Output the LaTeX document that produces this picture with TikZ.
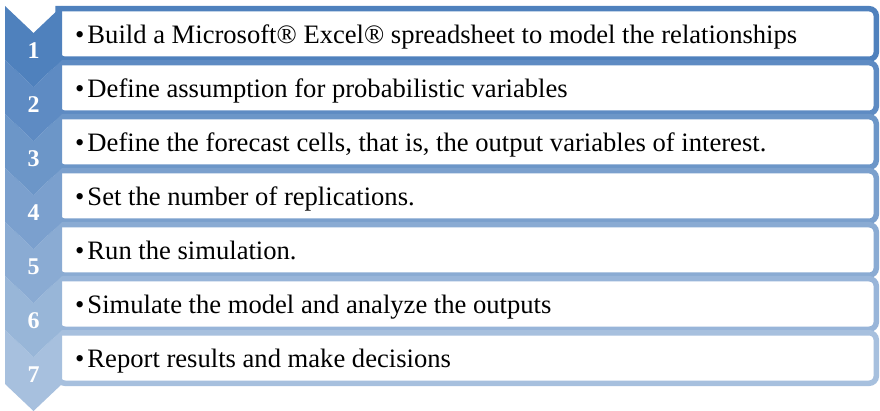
\documentclass[tikz,border=0pt]{standalone}
\usepackage{fontspec}
\setmainfont{Liberation Serif}
\definecolor{accent}{RGB}{79,129,189}
\begin{document}
\begin{tikzpicture}[x=1pt,y=-1pt,
  itemtext/.style={anchor=base west,inner sep=0pt,font=\fontsize{26.6}{30}\selectfont,text=black},
  numtext/.style={inner sep=0pt,font=\fontsize{24}{27}\selectfont\bfseries,text=white}]
\useasboundingbox (0,0) rectangle (880,411);
% text boxes (drawn first so the chevrons cover their left edges);
% row colours fade from the accent blue towards white
\foreach \k/\txt in {
  1/{Build a Microsoft® Excel® spreadsheet to model the relationships},
  2/{Define assumption for probabilistic variables},
  3/{Define the forecast cells, that is, the output variables of interest.},
  4/{Set the number of replications.},
  5/{Run the simulation.},
  6/{Simulate the model and analyze the outputs},
  7/{Report results and make decisions}}{
  \pgfmathsetmacro{\T}{6+54*(\k-1)}
  \pgfmathsetmacro{\pct}{100-50*(\k-1)/6}
  \draw[line width=5.5pt,draw=accent!\pct!white,fill=white,rounded corners=7pt]
    (58,\T+2.75) -- (876.25,\T+2.75) -- (876.25,\T+53.25) -- (58,\T+53.25)
    [sharp corners] -- cycle;
  \node[itemtext] (item\k) at (75,\T+37.5) {•\hspace{3pt}\txt};
}
% chevrons, bottom one first so each overlaps the next
\foreach \k in {7,6,...,1}{
  \pgfmathsetmacro{\Y}{6+54*(\k-1)}
  \pgfmathsetmacro{\pct}{100-50*(\k-1)/6}
  \fill[accent!\pct!white] (5,\Y) -- (33.5,\Y+27) -- (62,\Y) -- (62,\Y+54)
    -- (33.5,\Y+81) -- (5,\Y+54) -- cycle;
  \node[numtext] (num\k) at (33.5,\Y+45) {\k};
}
\end{tikzpicture}
\end{document}
